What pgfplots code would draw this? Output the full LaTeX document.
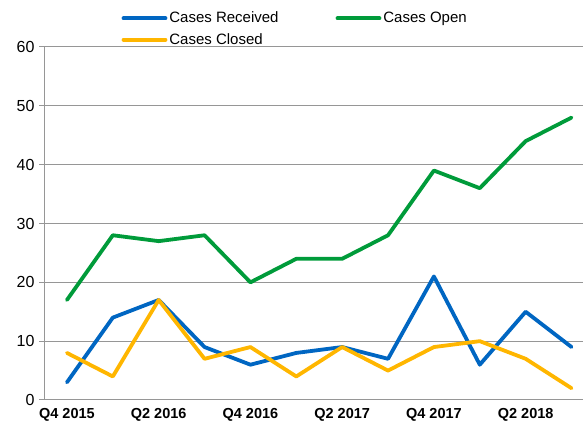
\documentclass[border=0pt]{standalone}
\usepackage{pgfplots}
\pgfplotsset{compat=1.18}
\usepackage{fontspec}
\setmainfont{Liberation Sans}
\definecolor{recv}{RGB}{0,102,194}
\definecolor{open}{RGB}{0,155,58}
\definecolor{closed}{RGB}{255,182,0}
\definecolor{gridgray}{RGB}{150,150,150}
\begin{document}
\begin{tikzpicture}
\begin{axis}[
  scale only axis,
  width=539pt, height=353pt,
  xmin=-0.5, xmax=11.25,
  ymin=0, ymax=60,
  axis x line*=bottom,
  axis y line*=left,
  axis line style={gridgray, line width=1pt},
  ytick={0,10,...,60},
  ymajorgrids,
  major grid style={gridgray, line width=1pt},
  ytick style={gridgray, line width=1pt},
  tick align=outside,
  major tick length=5pt,
  xtick={0,2,4,6,8,10},
  xticklabels={Q4 2015,Q2 2016,Q4 2016,Q2 2017,Q4 2017,Q2 2018},
  xtick style={draw=none},
  minor xtick={-0.5,0.5,...,10.5},
  minor x tick style={gridgray, line width=1pt},
  minor tick length=5pt,
  x tick label style={font=\fontsize{14.5}{16}\selectfont\bfseries, yshift=0pt},
  y tick label style={font=\fontsize{16}{18}\selectfont, xshift=-1pt},
  /pgf/number format/assume math mode=true,
  legend columns=2,
  legend style={draw=none, fill=none, at={(0.138,1)}, anchor=south west,
    yshift=-3pt, font=\fontsize{15}{17}\selectfont,
    /tikz/every even column/.append style={column sep=55pt},
    row sep=5pt},
  legend cell align=left,
  legend image code/.code={\draw[#1, line cap=round] (0pt,0pt) -- (42pt,0pt);},
  every axis plot/.append style={line width=3.8pt, line join=round, line cap=round, mark=none},
]
\addplot[recv] coordinates {(0,3) (1,14) (2,17) (3,9) (4,6) (5,8) (6,9) (7,7) (8,21) (9,6) (10,15) (11,9)};
\addplot[open] coordinates {(0,17) (1,28) (2,27) (3,28) (4,20) (5,24) (6,24) (7,28) (8,39) (9,36) (10,44) (11,48)};
\addplot[closed] coordinates {(0,8) (1,4) (2,17) (3,7) (4,9) (5,4) (6,9) (7,5) (8,9) (9,10) (10,7) (11,2)};
\legend{Cases Received,Cases Open,Cases Closed}
\coordinate (sw) at (rel axis cs:0,0);
\end{axis}
\pgfresetboundingbox
\path (sw) ++(-44pt,-27pt) rectangle ++(583pt,427pt);
\end{tikzpicture}
\end{document}
